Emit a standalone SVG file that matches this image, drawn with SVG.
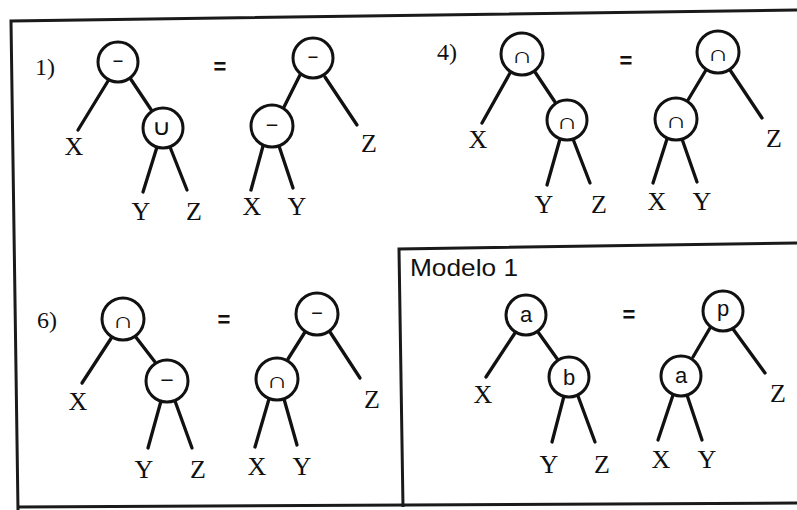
<svg xmlns="http://www.w3.org/2000/svg" width="797" height="510" viewBox="0 0 797 510">
<style>
.frame{fill:none;stroke:#1a1a1a;stroke-width:3}
.nd{fill:#fff;stroke:#111;stroke-width:3}
.ed{stroke:#111;stroke-width:3.3;stroke-linecap:round}
.lf{font-family:"Liberation Serif",serif;font-size:26px;fill:#111;text-anchor:middle}
.num{font-family:"Liberation Serif",serif;font-size:24px;fill:#111}
.eq{font-family:"Liberation Sans",sans-serif;font-size:22px;font-weight:bold;fill:#111;text-anchor:middle}
.op{font-family:"DejaVu Sans",sans-serif;font-size:22px;font-weight:200;fill:#111;text-anchor:middle}
.mn{font-family:"DejaVu Sans",sans-serif;font-size:18px;fill:#111;text-anchor:middle}
.ltr{font-family:"Liberation Sans",sans-serif;font-size:22px;fill:#111;text-anchor:middle}
.ttl{font-family:"Liberation Sans",sans-serif;font-size:24px;fill:#111}
</style>
<rect width="797" height="510" fill="#fff"/>
<g id="frames">
<polyline class="frame" points="797,10 11,21 18,510"/>
<line class="frame" x1="18" y1="507" x2="797" y2="503"/>
<polyline class="frame" points="797,243 399,249 403,507"/>
</g>
<g id="connectors">
<line class="ed" x1="108" y1="81" x2="78" y2="130"/>
<line class="ed" x1="130" y1="78" x2="152" y2="111"/>
<line class="ed" x1="157" y1="147" x2="143" y2="192"/>
<line class="ed" x1="170" y1="147" x2="187" y2="190"/>
<line class="ed" x1="325" y1="77" x2="357" y2="125"/>
<line class="ed" x1="300" y1="75" x2="284" y2="107"/>
<line class="ed" x1="263" y1="146" x2="251" y2="190"/>
<line class="ed" x1="279" y1="146" x2="293" y2="188"/>
<line class="ed" x1="510" y1="73" x2="482" y2="123"/>
<line class="ed" x1="535" y1="72" x2="555" y2="102"/>
<line class="ed" x1="560" y1="139" x2="547" y2="185"/>
<line class="ed" x1="573" y1="139" x2="590" y2="183"/>
<line class="ed" x1="730" y1="70" x2="762" y2="118"/>
<line class="ed" x1="706" y1="70" x2="688" y2="100"/>
<line class="ed" x1="667" y1="139" x2="653" y2="183"/>
<line class="ed" x1="682" y1="139" x2="697" y2="182"/>
<line class="ed" x1="112" y1="337" x2="82" y2="383"/>
<line class="ed" x1="135" y1="336" x2="155" y2="362"/>
<line class="ed" x1="161" y1="401" x2="148" y2="448"/>
<line class="ed" x1="175" y1="401" x2="192" y2="448"/>
<line class="ed" x1="330" y1="332" x2="360" y2="378"/>
<line class="ed" x1="305" y1="332" x2="288" y2="359"/>
<line class="ed" x1="269" y1="399" x2="255" y2="447"/>
<line class="ed" x1="284" y1="399" x2="297" y2="445"/>
<line class="ed" x1="515" y1="333" x2="486" y2="377"/>
<line class="ed" x1="538" y1="332" x2="558" y2="360"/>
<line class="ed" x1="564" y1="396" x2="552" y2="442"/>
<line class="ed" x1="578" y1="396" x2="595" y2="442"/>
<line class="ed" x1="733" y1="329" x2="765" y2="373"/>
<line class="ed" x1="710" y1="328" x2="693" y2="357"/>
<line class="ed" x1="673" y1="395" x2="658" y2="440"/>
<line class="ed" x1="687" y1="395" x2="702" y2="440"/>
</g>
<g id="labels">
<text class="num" x="35" y="75">1)</text>
<text class="num" x="437" y="60">4)</text>
<text class="num" x="37" y="328">6)</text>
<text class="ttl" x="410" y="276" textLength="108" lengthAdjust="spacingAndGlyphs">Modelo 1</text>
<text class="eq" x="220" y="74">=</text>
<text class="eq" x="626" y="68">=</text>
<text class="eq" x="224" y="327">=</text>
<text class="eq" x="629" y="322">=</text>
</g>
<g id="p1-root"><circle class="nd" cx="118" cy="62" r="20"/><text class="mn" x="118" y="67" textLength="12" lengthAdjust="spacingAndGlyphs">−</text></g>
<g id="p1-union"><circle class="nd" cx="163" cy="128" r="20"/><text class="op" x="161" y="135" textLength="19" lengthAdjust="spacingAndGlyphs">∪</text></g>
<g id="p1-X"><text class="lf" x="74" y="155">X</text></g>
<g id="p1-Y"><text class="lf" x="141" y="220">Y</text></g>
<g id="p1-Z"><text class="lf" x="194" y="220">Z</text></g>
<g id="p1r-root"><circle class="nd" cx="313" cy="58" r="20"/><text class="mn" x="313" y="63" textLength="12" lengthAdjust="spacingAndGlyphs">−</text></g>
<g id="p1r-child"><circle class="nd" cx="272" cy="126" r="21"/><text class="mn" x="272" y="131" textLength="14" lengthAdjust="spacingAndGlyphs">−</text></g>
<g id="p1r-Z"><text class="lf" x="369" y="152">Z</text></g>
<g id="p1r-X"><text class="lf" x="252" y="215">X</text></g>
<g id="p1r-Y"><text class="lf" x="297" y="215">Y</text></g>
<g id="p4-root"><circle class="nd" cx="522" cy="54" r="21"/><text class="op" x="522" y="63" textLength="21" lengthAdjust="spacingAndGlyphs">∩</text></g>
<g id="p4-child"><circle class="nd" cx="567" cy="120" r="20"/><text class="op" x="567" y="129" textLength="21" lengthAdjust="spacingAndGlyphs">∩</text></g>
<g id="p4-X"><text class="lf" x="478" y="148">X</text></g>
<g id="p4-Y"><text class="lf" x="544" y="213">Y</text></g>
<g id="p4-Z"><text class="lf" x="599" y="213">Z</text></g>
<g id="p4r-root"><circle class="nd" cx="718" cy="52" r="21"/><text class="op" x="718" y="61" textLength="21" lengthAdjust="spacingAndGlyphs">∩</text></g>
<g id="p4r-child"><circle class="nd" cx="676" cy="119" r="21"/><text class="op" x="676" y="128" textLength="21" lengthAdjust="spacingAndGlyphs">∩</text></g>
<g id="p4r-Z"><text class="lf" x="774" y="147">Z</text></g>
<g id="p4r-X"><text class="lf" x="657" y="210">X</text></g>
<g id="p4r-Y"><text class="lf" x="702" y="210">Y</text></g>
<g id="p6-root"><circle class="nd" cx="123" cy="319" r="21"/><text class="op" x="123" y="328" textLength="21" lengthAdjust="spacingAndGlyphs">∩</text></g>
<g id="p6-child"><circle class="nd" cx="167" cy="381" r="21"/><text class="mn" x="167" y="386" textLength="15" lengthAdjust="spacingAndGlyphs">−</text></g>
<g id="p6-X"><text class="lf" x="78" y="410">X</text></g>
<g id="p6-Y"><text class="lf" x="144" y="478">Y</text></g>
<g id="p6-Z"><text class="lf" x="198" y="478">Z</text></g>
<g id="p6r-root"><circle class="nd" cx="317" cy="314" r="21"/><text class="mn" x="317" y="319" textLength="13" lengthAdjust="spacingAndGlyphs">−</text></g>
<g id="p6r-child"><circle class="nd" cx="277" cy="379" r="21"/><text class="op" x="277" y="388" textLength="21" lengthAdjust="spacingAndGlyphs">∩</text></g>
<g id="p6r-Z"><text class="lf" x="372" y="408">Z</text></g>
<g id="p6r-X"><text class="lf" x="257" y="475">X</text></g>
<g id="p6r-Y"><text class="lf" x="302" y="475">Y</text></g>
<g id="m-root"><circle class="nd" cx="526" cy="315" r="20"/><text class="ltr" x="526" y="322">a</text></g>
<g id="m-child"><circle class="nd" cx="569" cy="377" r="20"/><text class="ltr" x="569" y="385">b</text></g>
<g id="m-X"><text class="lf" x="483" y="403">X</text></g>
<g id="m-Y"><text class="lf" x="549" y="473">Y</text></g>
<g id="m-Z"><text class="lf" x="602" y="473">Z</text></g>
<g id="mr-root"><circle class="nd" cx="723" cy="311" r="20"/><text class="ltr" x="723" y="316">p</text></g>
<g id="mr-child"><circle class="nd" cx="681" cy="376" r="20"/><text class="ltr" x="681" y="383">a</text></g>
<g id="mr-Z"><text class="lf" x="778" y="402">Z</text></g>
<g id="mr-X"><text class="lf" x="661" y="468">X</text></g>
<g id="mr-Y"><text class="lf" x="707" y="468">Y</text></g>
</svg>
